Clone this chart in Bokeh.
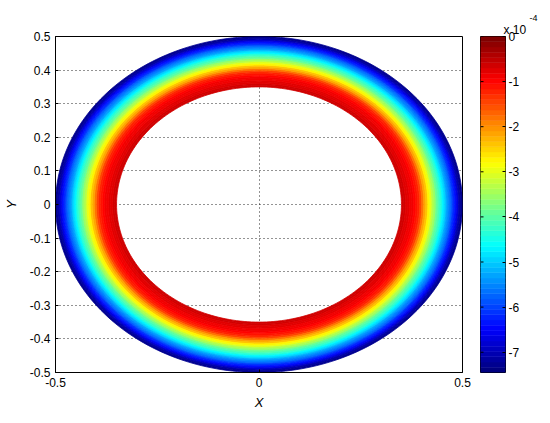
import numpy as np
from bokeh.plotting import figure
from bokeh.layouts import row
from bokeh.models import (Range1d, FixedTicker, LinearColorMapper, LinearAxis, Title,
                          ColumnDataSource)
from bokeh.embed import file_html
from bokeh.resources import INLINE

# ---------------- data (values in units of 1e-4) ----------------
ring_inner = [0.350, 0.355, 0.360, 0.365, 0.370, 0.375, 0.380, 0.385, 0.390, 0.395,
              0.400, 0.405, 0.410, 0.415, 0.420, 0.425, 0.430, 0.435, 0.440, 0.445,
              0.450, 0.455, 0.460, 0.465, 0.470, 0.475, 0.480, 0.485, 0.490, 0.495]
ring_outer = [0.355, 0.360, 0.365, 0.370, 0.375, 0.380, 0.385, 0.390, 0.395, 0.400,
              0.405, 0.410, 0.415, 0.420, 0.425, 0.430, 0.435, 0.440, 0.445, 0.450,
              0.455, 0.460, 0.465, 0.470, 0.475, 0.480, 0.485, 0.490, 0.495, 0.500]
ring_value = [-0.62, -0.68, -0.74, -0.80, -0.86, -0.92, -0.98, -1.08, -1.25, -1.50,
              -1.80, -2.10, -2.40, -2.70, -3.00, -3.30, -3.58, -3.86, -4.14, -4.42,
              -4.70, -4.98, -5.26, -5.54, -5.82, -6.10, -6.40, -6.70, -7.00, -7.30]
cbar_low = -7.45
cbar_high = 0.0

x_ticks = [-0.5, 0.0, 0.5]
x_tick_labels = ["-0.5", "0", "0.5"]
y_ticks = [-0.5, -0.4, -0.3, -0.2, -0.1, 0.0, 0.1, 0.2, 0.3, 0.4, 0.5]
y_tick_labels = ["-0.5", "-0.4", "-0.3", "-0.2", "-0.1", "0", "0.1", "0.2", "0.3", "0.4", "0.5"]
cbar_ticks = [-7, -6, -5, -4, -3, -2, -1, 0]
cbar_tick_labels = ["-7", "-6", "-5", "-4", "-3", "-2", "-1", "0"]

# ---------------- jet colormap (64 levels) ----------------
def jet(n):
    out = []
    for f in np.linspace(0, 1, n):
        r = np.clip(1.5 - abs(4 * f - 3), 0, 1)
        g = np.clip(1.5 - abs(4 * f - 2), 0, 1)
        b = np.clip(1.5 - abs(4 * f - 1), 0, 1)
        out.append("#%02x%02x%02x" % (int(round(r * 255)), int(round(g * 255)), int(round(b * 255))))
    return out

palette = jet(64)
mapper = LinearColorMapper(palette=palette, low=cbar_low, high=cbar_high)

FONT = "Liberation Sans"

# ---------------- main plot ----------------
theta = np.linspace(0, 2 * np.pi, 241)
xs, ys = [], []
for ri, ro in zip(ring_inner, ring_outer):
    xs.append([[list(ro * np.cos(theta)), list(ri * np.cos(theta)[::-1])]])
    ys.append([[list(ro * np.sin(theta)), list(ri * np.sin(theta)[::-1])]])
src = ColumnDataSource(dict(xs=xs, ys=ys, v=ring_value))

p = figure(frame_width=407, frame_height=336, output_backend="svg", toolbar_location=None,
           x_range=Range1d(-0.5, 0.5), y_range=Range1d(-0.5, 0.5),
           min_border_left=51, min_border_top=36, min_border_right=18, min_border_bottom=40)
p.background_fill_color = "white"
p.border_fill_color = "white"
p.outline_line_color = "black"
p.outline_line_width = 1

p.multi_polygons(xs="xs", ys="ys", source=src,
                 fill_color={"field": "v", "transform": mapper},
                 line_color={"field": "v", "transform": mapper}, line_width=0.8)

for ax in (p.xaxis[0], p.yaxis[0]):
    ax.major_label_text_font = FONT
    ax.major_label_text_font_size = "12px"
    ax.major_label_text_color = "black"
    ax.axis_label_text_font = FONT
    ax.axis_label_text_font_size = "13px"
    ax.axis_label_text_font_style = "italic"
    ax.axis_label_text_color = "black"
    ax.axis_line_color = "black"
    ax.major_tick_line_color = "black"
    ax.major_tick_in = 3
    ax.major_tick_out = 0
    ax.minor_tick_line_color = None

p.xaxis[0].ticker = FixedTicker(ticks=x_ticks)
p.xaxis[0].major_label_overrides = dict(zip(x_ticks, x_tick_labels))
p.xaxis[0].axis_label = "X"
p.xaxis[0].major_label_standoff = 5
p.xaxis[0].axis_label_standoff = 5
p.yaxis[0].ticker = FixedTicker(ticks=y_ticks)
p.yaxis[0].major_label_overrides = dict(zip(y_ticks, y_tick_labels))
p.yaxis[0].axis_label = "Y"
p.yaxis[0].major_label_standoff = 5
p.yaxis[0].axis_label_standoff = 8

for g in (p.xgrid[0], p.ygrid[0]):
    g.grid_line_color = "black"
    g.grid_line_dash = "1 3"
    g.grid_line_alpha = 0.85
p.xgrid[0].ticker = FixedTicker(ticks=x_ticks)
p.ygrid[0].ticker = FixedTicker(ticks=y_ticks)

# ---------------- colorbar as its own small plot ----------------
edges = np.linspace(cbar_low, cbar_high, len(palette) + 1)
cb = figure(frame_width=25, frame_height=336, output_backend="svg", toolbar_location=None,
            x_range=Range1d(0, 1), y_range=Range1d(cbar_low, cbar_high),
            x_axis_location=None, y_axis_location=None,
            min_border_left=0, min_border_right=42, min_border_top=34, min_border_bottom=42)
cb.background_fill_color = "white"
cb.border_fill_color = "white"
cb.outline_line_color = "black"
cb.grid.visible = False
cb.quad(left=0, right=1, bottom=edges[:-1], top=edges[1:], fill_color=palette,
        line_color=palette, line_width=0.5)
cb.segment(x0=0, x1=0.12, y0=cbar_ticks, y1=cbar_ticks, line_color="black", line_width=1)

cax = LinearAxis(ticker=FixedTicker(ticks=cbar_ticks),
                 major_label_overrides=dict(zip(cbar_ticks, cbar_tick_labels)),
                 major_label_text_font=FONT, major_label_text_font_size="12px",
                 major_label_text_color="black", major_label_standoff=3,
                 axis_line_color=None, major_tick_line_color="black",
                 major_tick_in=3, major_tick_out=0, minor_tick_line_color=None)
cb.add_layout(cax, "right")

t1 = Title(text="x 10", text_font=FONT, text_font_size="12px", text_font_style="normal",
           text_color="black", align="left", offset=23, standoff=0, text_line_height=0.7)
t2 = Title(text="-4", text_font=FONT, text_font_size="9px", text_font_style="normal",
           text_color="black", align="left", offset=49, standoff=0, text_line_height=0.8)
cb.add_layout(t1, "above")
cb.add_layout(t2, "above")

layout = row(p, cb, spacing=0)
open("out.html", "w").write(file_html(layout, INLINE))
